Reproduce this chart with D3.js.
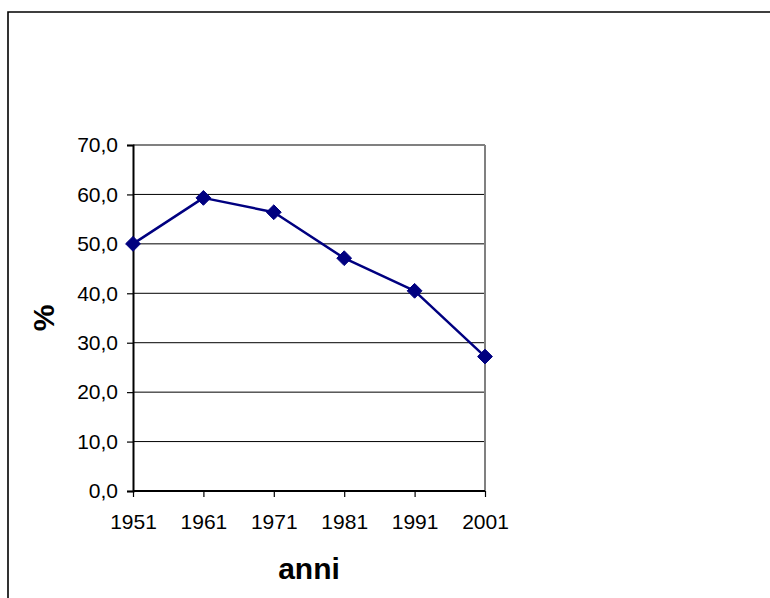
<!DOCTYPE html>
<html>
<head>
<meta charset="utf-8">
<script src="https://cdn.jsdelivr.net/npm/d3@7"></script>
<style>
  html, body { margin: 0; padding: 0; background: #fff; }
  svg { display: block; font-family: "Liberation Sans", Arial, sans-serif; }
</style>
</head>
<body>
<svg id="chart" width="770" height="598"></svg>
<script>
// Census years and percentage values
const years = ["1951", "1961", "1971", "1981", "1991", "2001"];
const values = [50.0, 59.3, 56.4, 47.1, 40.5, 27.2];
const yTicks = [0, 10, 20, 30, 40, 50, 60, 70];
const xTitle = "anni";
const yTitle = "%";

const svg = d3.select("#chart");

// Outer chart frame (open on the right and bottom edges of the view)
svg.append("path")
  .attr("d", "M8,600 L8,12 L772,12")
  .attr("fill", "none")
  .attr("stroke", "#000")
  .attr("stroke-width", 1.6);

const plot = { left: 133, right: 485, top: 145, bottom: 491 };

const x = d3.scalePoint()
  .domain(years)
  .range([plot.left, plot.right]);

const y = d3.scaleLinear()
  .domain([0, 70])
  .range([plot.bottom, plot.top]);

const fmt = d => d3.format(".1f")(d).replace(".", ",");

// Horizontal gridlines
svg.append("g")
  .selectAll("line")
  .data(yTicks.filter(d => d > 0))
  .join("line")
  .attr("x1", plot.left)
  .attr("x2", plot.right)
  .attr("y1", d => y(d))
  .attr("y2", d => y(d))
  .attr("stroke", d => d === 70 ? "#808080" : "#000")
  .attr("stroke-width", d => d === 70 ? 2 : 1);

// Plot area right border
svg.append("line")
  .attr("x1", plot.right).attr("x2", plot.right)
  .attr("y1", plot.top).attr("y2", plot.bottom)
  .attr("stroke", "#808080")
  .attr("stroke-width", 2);

// Y axis
const yAxis = svg.append("g")
  .attr("transform", `translate(${plot.left},0)`)
  .call(d3.axisLeft(y).tickValues(yTicks).tickFormat(fmt).tickSize(6).tickPadding(9));
yAxis.select(".domain").attr("stroke", "#000").attr("stroke-width", 2);
yAxis.selectAll(".tick line").attr("stroke", "#000").attr("stroke-width", 1.2);
yAxis.selectAll(".tick text")
  .attr("font-size", 21)
  .attr("font-family", "Liberation Sans, Arial, sans-serif")
  .attr("fill", "#000");

// X axis
const xAxis = svg.append("g")
  .attr("transform", `translate(0,${plot.bottom})`)
  .call(d3.axisBottom(x).tickSize(6).tickPadding(17));
xAxis.select(".domain").attr("stroke", "#000").attr("stroke-width", 2)
  .attr("d", `M${plot.left},0H${plot.right}`);
xAxis.selectAll(".tick line").attr("stroke", "#000").attr("stroke-width", 1.2);
xAxis.selectAll(".tick text")
  .attr("font-size", 21)
  .attr("font-family", "Liberation Sans, Arial, sans-serif")
  .attr("fill", "#000");

// Series line
const line = d3.line()
  .x((d, i) => x(years[i]))
  .y(d => y(d));

svg.append("path")
  .datum(values)
  .attr("d", line)
  .attr("fill", "none")
  .attr("stroke", "#000080")
  .attr("stroke-width", 2.5)
  .attr("stroke-linejoin", "round");

// Diamond markers
const diamond = d3.symbol().type(d3.symbolDiamond2).size(140);
svg.append("g")
  .selectAll("path")
  .data(values)
  .join("path")
  .attr("transform", (d, i) => `translate(${x(years[i])},${y(d)})`)
  .attr("d", diamond)
  .attr("fill", "#000080")
  .attr("stroke", "#000080")
  .attr("stroke-width", 1);

// Axis titles
svg.append("text")
  .attr("x", (plot.left + plot.right) / 2)
  .attr("y", 579)
  .attr("text-anchor", "middle")
  .attr("font-size", 30)
  .attr("font-weight", "bold")
  .text(xTitle);

svg.append("text")
  .attr("transform", `translate(54,${(plot.top + plot.bottom) / 2}) rotate(-90)`)
  .attr("text-anchor", "middle")
  .attr("font-size", 30)
  .attr("font-weight", "bold")
  .text(yTitle);
</script>
</body>
</html>
